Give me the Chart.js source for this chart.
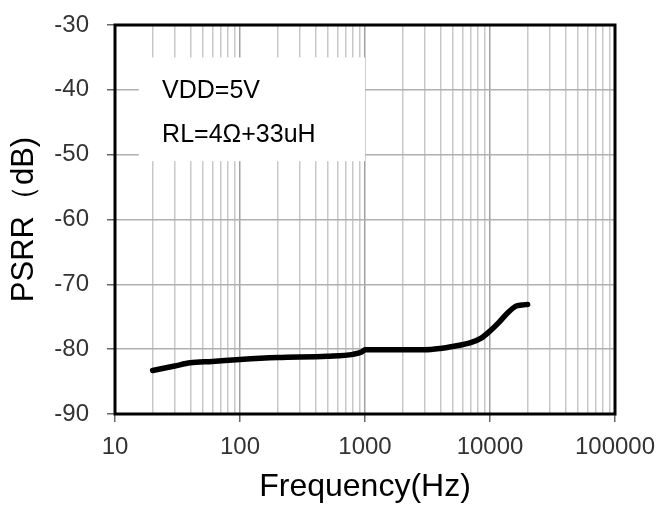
<!DOCTYPE html>
<html>
<head>
<meta charset="utf-8">
<script src="https://cdn.jsdelivr.net/npm/chart.js@4"></script>
<style>
  html, body { margin: 0; padding: 0; background: #fff; }
  canvas { display: block; }
</style>
</head>
<body>
<canvas id="psrrChart" width="660" height="506"></canvas>
<script>
// data
const freqHz = [20, 30, 40, 60, 100, 200, 500, 800, 950, 1000, 2000, 3000, 4000, 5000, 7000, 8500, 10000, 12000, 14000, 16000, 18000, 20000];
const psrrDb = [-83.3, -82.6, -82.1, -81.9, -81.6, -81.3, -81.1, -80.8, -80.4, -80.1, -80.1, -80.1, -79.9, -79.6, -79.0, -78.3, -77.2, -75.7, -74.3, -73.4, -73.2, -73.1];

const xDecades = [10, 100, 1000, 10000, 100000];
const yTicks = [-90, -80, -70, -60, -50, -40, -30];
const noteLines = ["VDD=5V", "RL=4Ω+33uH"];

const FONT = "'Liberation Sans', Arial, sans-serif";
const isDecade = v => Math.abs(Math.log10(v) - Math.round(Math.log10(v))) < 1e-9;

// log minor ticks 1..9 per decade
function logTicks() {
  const out = [];
  for (let i = 0; i < xDecades.length - 1; i++) {
    for (let m = 1; m <= 9; m++) out.push({ value: xDecades[i] * m });
  }
  out.push({ value: xDecades[xDecades.length - 1] });
  return out;
}

// white note box with the test conditions
const notePlugin = {
  id: "note",
  beforeDatasetsDraw(chart) {
    const { ctx, scales: { x, y } } = chart;
    const l = x.getPixelForValue(15.5), r = x.getPixelForValue(1000);
    const t = y.getPixelForValue(-35), b = y.getPixelForValue(-51);
    ctx.save();
    ctx.fillStyle = "#fff";
    ctx.fillRect(l, t, r - l, b - t);
    ctx.fillStyle = "#000";
    ctx.font = `25px ${FONT}`;
    ctx.textBaseline = "alphabetic";
    const tx = x.getPixelForValue(23.8);
    ctx.fillText(noteLines[0], tx, y.getPixelForValue(-41.3));
    ctx.fillText(noteLines[1], tx, y.getPixelForValue(-48.1));
    ctx.restore();
  }
};

// heavy frame round the plot area
const framePlugin = {
  id: "frame",
  afterDraw(chart) {
    const { ctx, chartArea: a } = chart;
    ctx.save();
    ctx.strokeStyle = "#000";
    ctx.lineWidth = 3;
    ctx.strokeRect(a.left, a.top, a.right - a.left, a.bottom - a.top);
    ctx.restore();
  }
};

new Chart(document.getElementById("psrrChart"), {
  type: "line",
  data: {
    datasets: [{
      data: freqHz.map((f, i) => ({ x: f, y: psrrDb[i] })),
      borderColor: "#000",
      borderWidth: 5.5,
      borderCapStyle: "round",
      borderJoinStyle: "round",
      pointRadius: 0,
      cubicInterpolationMode: "monotone",
      fill: false
    }]
  },
  options: {
    responsive: false,
    devicePixelRatio: 1,
    animation: false,
    layout: { padding: { top: 25, right: 45, left: 0, bottom: 0 } },
    plugins: { legend: { display: false }, tooltip: { enabled: false } },
    scales: {
      x: {
        type: "logarithmic",
        min: 10,
        max: 100000,
        afterBuildTicks: s => { s.ticks = logTicks(); },
        afterFit: s => { s.height = 92; s.paddingLeft = 0; s.paddingRight = 0; },
        ticks: {
          autoSkip: false,
          maxRotation: 0,
          padding: 11,
          color: "#333",
          font: { family: FONT, size: 24 },
          callback: v => isDecade(v) ? String(v) : ""
        },
        grid: {
          color: c => c.tick && isDecade(c.tick.value) ? "#a0a0a0" : "#c8c8c8",
          lineWidth: 1.5,
          tickLength: 8,
          tickColor: c => c.tick && isDecade(c.tick.value) ? "#666" : "rgba(0,0,0,0)"
        },
        border: { display: false },
        title: {
          display: true,
          text: "Frequency(Hz)",
          color: "#000",
          font: { family: FONT, size: 32 },
          padding: { top: 0, bottom: 0 }
        }
      },
      y: {
        min: -90,
        max: -30,
        afterBuildTicks: s => { s.ticks = yTicks.map(v => ({ value: v })); },
        afterFit: s => { s.width = 115; s.paddingTop = 0; s.paddingBottom = 0; },
        ticks: {
          padding: 18,
          color: "#333",
          font: { family: FONT, size: 24 }
        },
        grid: {
          color: "#b0b0b0",
          lineWidth: 1.5,
          tickLength: 8,
          tickColor: "#666"
        },
        border: { display: false },
        title: {
          display: true,
          text: "PSRR（dB)",
          color: "#000",
          font: { family: FONT, size: 31 },
          padding: { top: 6, bottom: 0 }
        }
      }
    }
  },
  plugins: [notePlugin, framePlugin]
});
</script>
</body>
</html>
